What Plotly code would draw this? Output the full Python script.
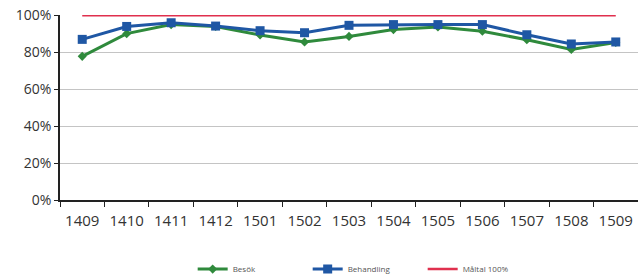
import plotly.graph_objects as go

categories = ["1409", "1410", "1411", "1412", "1501", "1502", "1503",
              "1504", "1505", "1506", "1507", "1508", "1509"]
besok = [77.8, 90.1, 95.0, 94.0, 89.4, 85.6, 88.6, 92.3, 93.7, 91.4, 86.8, 81.5, 85.3]
behandling = [87.0, 94.0, 96.0, 94.2, 91.7, 90.6, 94.6, 95.0, 95.0, 95.0, 89.5, 84.5, 85.6]
maltal = [100] * len(categories)

fig = go.Figure()
fig.add_trace(go.Scatter(x=categories, y=[v / 100 for v in besok], name="Besök",
                         mode="lines+markers",
                         line=dict(color="#2f8a3c", width=3),
                         marker=dict(symbol="diamond", size=7, color="#2f8a3c")))
fig.add_trace(go.Scatter(x=categories, y=[v / 100 for v in behandling], name="Behandling",
                         mode="lines+markers",
                         line=dict(color="#1f57a4", width=3),
                         marker=dict(symbol="square", size=9, color="#1f57a4")))
fig.add_trace(go.Scatter(x=categories, y=[v / 100 for v in maltal], name="Måltal 100%",
                         mode="lines",
                         line=dict(color="#e0304e", width=2.5)))

fig.update_layout(
    width=638, height=278,
    margin=dict(l=60, r=0, t=15, b=78),
    paper_bgcolor="white", plot_bgcolor="white",
    font=dict(family="Open Sans, Liberation Sans, sans-serif", color="#333333"),
    showlegend=True,
    legend=dict(orientation="h", xref="container", x=0.302, xanchor="left",
                yref="container", y=0.032, yanchor="middle",
                font=dict(size=8, color="#555555"), entrywidth=70,
                itemwidth=30, bgcolor="rgba(0,0,0,0)", borderwidth=0),
    xaxis=dict(type="category", tickson="boundaries", ticks="outside", ticklen=5,
               tickcolor="#222222", showline=True, linecolor="#222222", linewidth=1.5,
               showgrid=False, tickfont=dict(size=15, color="#333333"),
               ticklabelstandoff=6,
               range=[-0.5, len(categories) - 0.5], fixedrange=True, automargin=False),
    yaxis=dict(range=[0, 1.002], tickvals=[0, 0.2, 0.4, 0.6, 0.8, 1.0],
               tickformat=".0%", ticks="outside", ticklen=4, tickcolor="#222222",
               showline=True, linecolor="#222222", linewidth=1.5,
               showgrid=True, gridcolor="#c4c4c4", gridwidth=1,
               tickfont=dict(size=14, color="#333333"), zeroline=False, automargin=False),
)

fig.write_html("out.html", config={"displayModeBar": False},
               post_script="document.body.style.margin='0';")
